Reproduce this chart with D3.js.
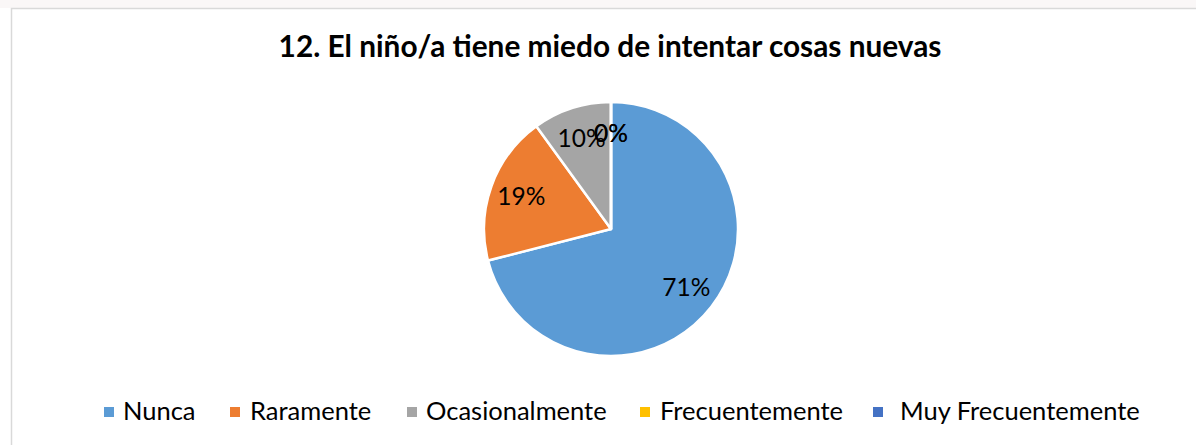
<!DOCTYPE html>
<html>
<head>
<meta charset="utf-8">
<script src="https://cdn.jsdelivr.net/npm/d3@7"></script>
<style>
  body { margin: 0; background: #fff; }
  text { font-family: Lato, "Open Sans", sans-serif; }
</style>
</head>
<body>
<div id="chart"></div>
<script>
var categories = ["Nunca", "Raramente", "Ocasionalmente", "Frecuentemente", "Muy Frecuentemente"];
var percents = [71, 19, 10, 0, 0];
var colors = ["#5B9BD5", "#ED7D31", "#A5A5A5", "#FFC000", "#4472C4"];
var title = "12. El niño/a tiene miedo de intentar cosas nuevas";

var width = 1196,
    height = 445;

var svg = d3
    .select("#chart")
    .append("svg")
    .attr("width", width)
    .attr("height", height);

// faint page strip above the chart frame
svg.append("rect")
    .attr("x", 0).attr("y", 0)
    .attr("width", width).attr("height", 8)
    .attr("fill", "#faf7f7");

// chart frame (only left and top edges are visible in the crop)
svg.append("path")
    .attr("d", "M11.5," + height + "V8.5H" + width)
    .attr("fill", "none")
    .attr("stroke", "#d9d9d9")
    .attr("stroke-width", 1.5);

svg.append("text")
    .attr("x", 610)
    .attr("y", 57)
    .attr("text-anchor", "middle")
    .style("font-size", "29.8px")
    .style("font-weight", "bold")
    .style("fill", "#000")
    .text(title);

var cx = 611, cy = 229, radius = 127;

var pie = d3.pie().sort(null).value(function (d) { return d; });
var arcs = pie(percents);

var arc = d3.arc().innerRadius(0).outerRadius(radius);
var labelArc = d3.arc().innerRadius(radius * 0.75).outerRadius(radius * 0.75);

var g = svg.append("g").attr("transform", "translate(" + cx + "," + cy + ")");

g.selectAll("path.slice")
    .data(arcs)
    .enter()
    .append("path")
    .attr("class", "slice")
    .attr("d", arc)
    .attr("fill", function (d, i) { return colors[i]; })
    .attr("stroke", "#fff")
    .attr("stroke-width", 2.5)
    .attr("stroke-linejoin", "round");

g.selectAll("text.lbl")
    .data(arcs)
    .enter()
    .append("text")
    .attr("class", "lbl")
    .attr("transform", function (d) { return "translate(" + labelArc.centroid(d) + ")"; })
    .attr("text-anchor", "middle")
    .attr("dy", "0.35em")
    .style("font-size", "24.5px")
    .style("fill", "#000")
    .text(function (d) { return d.data + "%"; });

// legend below the pie; Excel spaced the entries unevenly
var legendLeft = [104, 230, 407, 640, 873];
var legendTextGap = [19, 20, 19, 20, 27];

var legend = svg.append("g").attr("transform", "translate(0,420)");
var items = legend.selectAll("g.item")
    .data(categories)
    .enter()
    .append("g")
    .attr("class", "item")
    .attr("transform", function (d, i) { return "translate(" + legendLeft[i] + ",0)"; });

items.append("rect")
    .attr("x", 0).attr("y", -13)
    .attr("width", 10).attr("height", 10)
    .attr("fill", function (d, i) { return colors[i]; });

items.append("text")
    .attr("x", function (d, i) { return legendTextGap[i]; })
    .attr("y", 0)
    .style("font-size", "25.5px")
    .style("fill", "#000")
    .text(function (d) { return d; });
</script>
</body>
</html>
